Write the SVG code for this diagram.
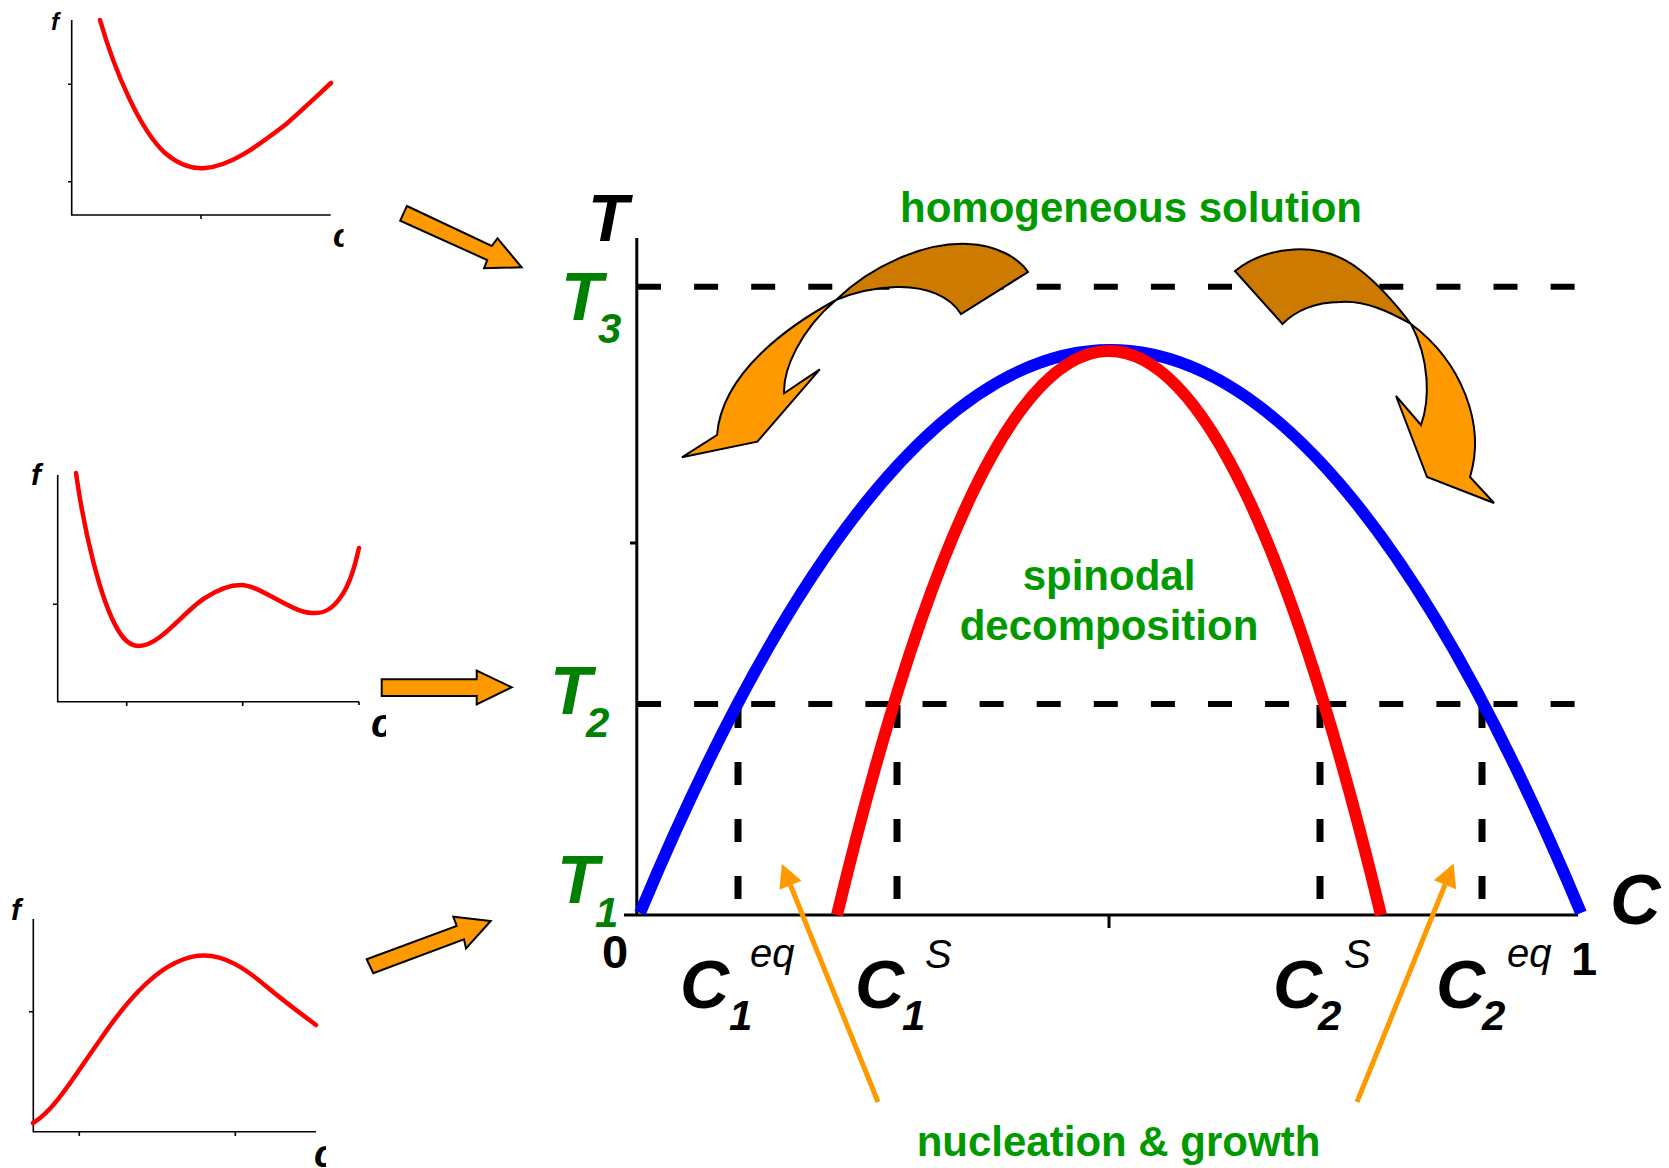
<svg xmlns="http://www.w3.org/2000/svg" width="1669" height="1168" viewBox="0 0 1669 1168">
<defs>
<style>
.ax{stroke:#000;stroke-width:3;fill:none}
.max{stroke:#000;stroke-width:1.6;fill:none}
.fc{stroke:#ff0000;stroke-width:4.5;fill:none;stroke-linecap:round}
.dash{stroke:#000;stroke-width:6;fill:none;stroke-dasharray:24 33.1}
.vdash{stroke:#000;stroke-width:7;fill:none;stroke-dasharray:23 34}
.blk{fill:#ff9900;stroke:#000;stroke-width:2;stroke-linejoin:miter}
.brn{fill:#cc7a00;stroke:#000;stroke-width:2}
.thin{stroke:#ff9900;stroke-width:5;fill:none}
.lbl{font-family:"Liberation Sans",Arial,sans-serif;font-weight:bold;font-style:italic}
.tg{fill:#008000}
.gt{font-family:"Liberation Sans",Arial,sans-serif;font-weight:bold;fill:#009900;font-size:42px}
.sup{font-weight:normal;font-size:40px}
.sub{font-size:42px}
.num{font-family:"Liberation Sans",Arial,sans-serif;font-weight:bold;font-size:47px;fill:#000}
</style>
<marker id="ah" markerUnits="userSpaceOnUse" markerWidth="24" markerHeight="25" refX="0" refY="12" orient="auto" overflow="visible">
<path d="M0,0 L23,12 L0,24 Z" fill="#ff9900"/>
</marker>
<clipPath id="c1"><rect x="0" y="0" width="343.5" height="260"/></clipPath>
<clipPath id="c2"><rect x="0" y="440" width="386" height="320"/></clipPath>
<clipPath id="c3"><rect x="0" y="860" width="326" height="308"/></clipPath>
</defs>
<rect width="1669" height="1168" fill="#fff"/>

<!-- mini plot 1 -->
<g id="plot1">
<path class="max" d="M71.7,20 V215 H330.7 M68,84.3 H71.7 M68,181.7 H71.7 M201,215 V219"/>
<path class="fc" d="M100,20 C115,72 140,130 165,153 C180,166 195,169 205,168 C230,166 255,148 285,125 C300,112 318,95 331,83"/>
<text class="lbl" x="51" y="30" font-size="24">f</text>
<text class="lbl" x="333" y="246.5" font-size="33" font-style="normal" clip-path="url(#c1)">c</text>
</g>

<!-- mini plot 2 -->
<g id="plot2">
<path class="max" d="M57.7,475 V701.7 H359 M53,604.3 H57.7 M126.7,701.7 V706 M242.7,701.7 V706 M359,701.7 V705"/>
<path class="fc" d="M76,473 C84,530 100,600 118,630 C125,642 132,646 139,646 C160,646 185,610 205,598 C220,588 232,585 241,585 C260,585 290,612 312,613 C325,614 333,608 340,598 C350,585 355,565 359,548"/>
<text class="lbl" x="31" y="485" font-size="30">f</text>
<text class="lbl" x="371" y="737" font-size="40" font-style="normal" clip-path="url(#c2)">c</text>
</g>

<!-- mini plot 3 -->
<g id="plot3">
<path class="max" d="M33.3,919 V1131.7 H316 M29,1011.7 H33.3 M79.3,1131.7 V1136 M235.3,1131.7 V1136"/>
<path class="fc" d="M33,1123 C55,1110 75,1075 100,1040 C125,1003 150,975 175,963 C190,956 197,955.5 204,955.5 C225,955.5 245,968 267,987 C285,1002 300,1013 316,1025"/>
<text class="lbl" x="11" y="920" font-size="30">f</text>
<text class="lbl" x="314" y="1167" font-size="38" font-style="normal" clip-path="url(#c3)">c</text>
</g>

<!-- block arrows -->
<g id="arrow-top"><polygon class="blk" points="406.9,206 491.7,246 497.5,238.3 521.6,267.3 484.1,268.3 487.2,260 400.2,220.7"/></g>
<g id="arrow-mid"><polygon class="blk" points="381.7,679.3 476.7,679.3 476.7,670.7 511.7,687.3 476.7,704.3 476.7,696 381.7,696"/></g>
<g id="arrow-bot"><polygon class="blk" points="366.7,959.3 456.7,926 453.3,916.7 490.7,921 466,948.3 464,939.3 373.3,973.3"/></g>

<!-- main axes -->
<g id="axes">
<path class="ax" d="M636.8,238 V915 M624,915 H1578 M630,543 H636.8 M1109,915 V928"/>
</g>

<!-- dashed lines -->
<g id="dashes">
<path class="dash" d="M637,286.7 H1575"/>
<path class="dash" d="M637,704 H1575"/>
<path class="vdash" d="M738,705 V901 M897,705 V901 M1320,705 V901 M1482,705 V901"/>
</g>

<!-- curves -->
<g id="binodal"><path d="M640,913 Q1110.5,-213 1581,913" stroke="#0000ff" stroke-width="12" fill="none"/></g>
<g id="spinodal"><path d="M837,915 Q1109,-213 1381,915" stroke="#ff0000" stroke-width="12" fill="none"/></g>

<!-- curved arrows -->
<g id="curved-left">
<path class="brn" d="M836,300 C872,265 925,242 968,244 C995,245 1018,257 1028,272 L961,314 C950,296 925,286 896,287 C870,288 850,294 836,300 Z"/>
<path class="blk" d="M836,300 C790,325 722,372 717,435 L681.9,457.3 L757.3,441.7 L819.8,369.3 L784.1,393.3 C783,370 800,330 836,300 Z"/>
</g>
<g id="curved-right">
<path class="brn" d="M1235,271 C1265,247 1320,238 1360,270 C1382,287 1398,307 1411,324 C1390,312 1365,300 1340,302 C1315,302 1295,311 1282.5,324 Z"/>
<path class="blk" d="M1411,324 C1462,362 1486,425 1470,477 L1494,503 L1427,477 L1396,396 L1421,425 C1430,400 1430,360 1411,324 Z"/>
</g>

<!-- connectors: nucleation arrows -->
<g id="connectors">
<line class="thin" x1="878" y1="1102" x2="790.5" y2="885.3" marker-end="url(#ah)"/>
<line class="thin" x1="1357" y1="1102" x2="1445" y2="884.7" marker-end="url(#ah)"/>
</g>

<!-- labels -->
<g id="labels">
<text class="lbl" x="588" y="240.5" font-size="66">T</text>
<text id="lT3" class="lbl tg" x="561" y="320" font-size="68">T<tspan class="sub" x="598" y="343">3</tspan></text>
<text id="lT2" class="lbl tg" x="550" y="714" font-size="68">T<tspan class="sub" x="586" y="737">2</tspan></text>
<text id="lT1" class="lbl tg" x="557" y="903" font-size="68">T<tspan class="sub" x="595" y="927">1</tspan></text>
<text class="num" x="602" y="968">0</text>
<text class="num" x="1571" y="975">1</text>
<text class="lbl" x="1610" y="924" font-size="70">C</text>
<text id="lC1eq" class="lbl" x="680" y="1008" font-size="68">C<tspan class="sub" x="729" y="1030">1</tspan><tspan class="sup" x="750" y="967">eq</tspan></text>
<text id="lC1S" class="lbl" x="855" y="1008" font-size="68">C<tspan class="sub" x="902" y="1030">1</tspan><tspan class="sup" x="925" y="968">S</tspan></text>
<text id="lC2S" class="lbl" x="1273" y="1008" font-size="68">C<tspan class="sub" x="1318" y="1030">2</tspan><tspan class="sup" x="1344" y="968">S</tspan></text>
<text id="lC2eq" class="lbl" x="1436" y="1008" font-size="68">C<tspan class="sub" x="1482" y="1030">2</tspan><tspan class="sup" x="1507" y="967">eq</tspan></text>
<text class="gt" x="900" y="221.7">homogeneous solution</text>
<text class="gt" x="1109" y="590" text-anchor="middle">spinodal</text>
<text class="gt" x="1109" y="640" text-anchor="middle">decomposition</text>
<text class="gt" x="1118.5" y="1156" text-anchor="middle">nucleation &amp; growth</text>
</g>
</svg>
